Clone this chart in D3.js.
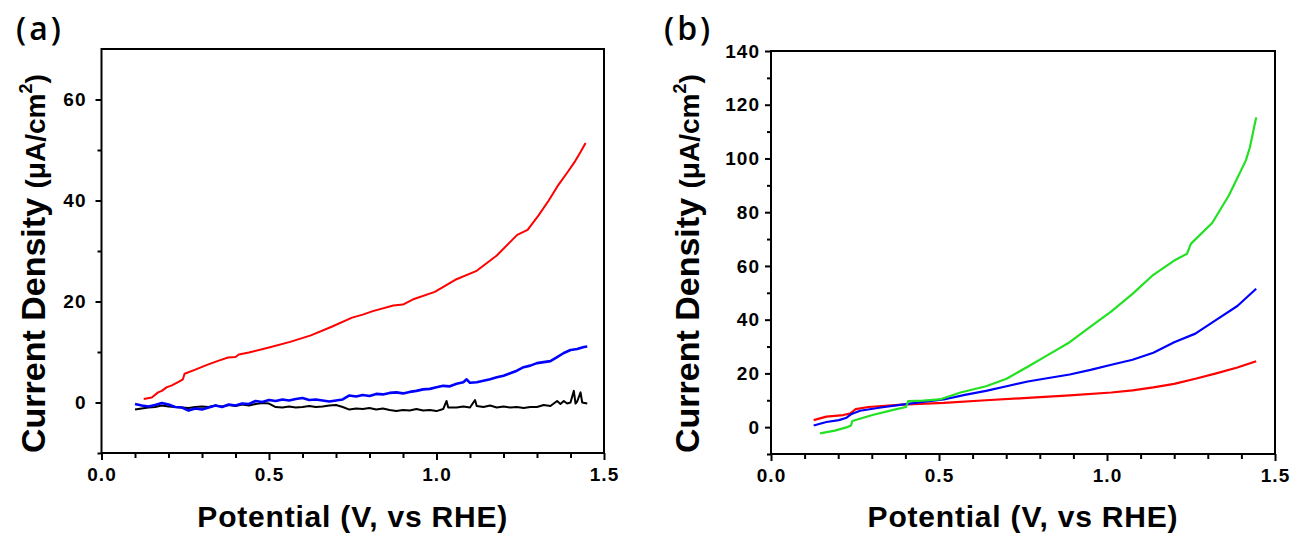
<!DOCTYPE html>
<html>
<head>
<meta charset="utf-8">
<script src="https://cdn.jsdelivr.net/npm/d3@7"></script>
<style>
  body { margin: 0; background: #fff; }
  svg { display: block; font-family: "Liberation Sans", Arial, sans-serif; }
</style>
</head>
<body>
<svg id="chart"></svg>
<script>
// x ticks (shared by both panels)
const xMajor = [0, 0.5, 1.0, 1.5];
const xMinor = [0.1, 0.2, 0.3, 0.4, 0.6, 0.7, 0.8, 0.9, 1.1, 1.2, 1.3, 1.4];

// y ticks
const aYMajor = [0, 20, 40, 60];
const aYMinor = [-10, 10, 30, 50];
const bYMajor = [0, 20, 40, 60, 80, 100, 120, 140];
const bYMinor = [-10, 10, 30, 50, 70, 90, 110, 130];

// panel (a) curves: [potential V, current density uA/cm2]
const aRed = [[0.126,0.7],[0.15,1.0],[0.169,2.0],[0.18,2.3],[0.194,3.0],[0.21,3.4],[0.23,4.1],[0.243,4.6],[0.248,5.7],
  [0.28,6.5],[0.317,7.5],[0.35,8.3],[0.378,8.9],[0.40,9.0],[0.41,9.5],[0.44,9.9],[0.50,10.9],[0.563,12.0],[0.625,13.3],
  [0.687,15.0],[0.748,16.8],[0.78,17.4],[0.81,18.1],[0.871,19.2],[0.90,19.4],[0.933,20.5],[0.995,21.9],[1.056,24.3],
  [1.118,26.0],[1.18,29.1],[1.241,33.2],[1.272,34.2],[1.303,36.9],[1.335,40.0],[1.364,43.1],[1.39,45.5],
  [1.414,47.8],[1.43,49.6],[1.445,51.4]];

const aBlue = [[0.10,-0.3],[0.12,-0.6],[0.14,-0.8],[0.16,-0.5],[0.18,-0.1],[0.20,-0.4],[0.22,-0.9],[0.24,-1.0],
  [0.26,-1.6],[0.28,-1.2],[0.30,-1.4],[0.32,-1.0],[0.34,-0.6],[0.36,-0.9],[0.38,-0.4],[0.40,-0.6],[0.42,-0.2],
  [0.44,-0.3],[0.46,0.3],[0.48,0.1],[0.50,0.5],[0.52,0.3],[0.54,0.6],[0.56,0.4],[0.58,0.7],[0.60,0.9],[0.62,0.5],
  [0.64,0.6],[0.66,0.4],[0.68,0.2],[0.70,0.4],[0.72,0.6],[0.74,1.4],[0.76,1.2],[0.78,1.5],[0.80,1.3],[0.82,1.7],
  [0.84,1.6],[0.86,1.9],[0.88,2.0],[0.90,1.8],[0.92,2.1],[0.94,2.3],[0.96,2.6],[0.98,2.7],[1.00,3.0],[1.02,3.3],
  [1.04,3.2],[1.06,3.7],[1.08,4.0],[1.09,4.6],[1.10,3.9],[1.12,4.0],[1.14,4.3],[1.16,4.6],[1.18,5.0],[1.20,5.3],
  [1.22,5.8],[1.24,6.3],[1.26,7.0],[1.28,7.3],[1.30,7.8],[1.32,8.0],[1.34,8.2],[1.36,9.0],[1.38,9.8],[1.40,10.4],
  [1.42,10.6],[1.44,11.0],[1.45,11.1]];

const aBlack = [[0.10,-1.4],[0.12,-1.2],[0.14,-1.0],[0.16,-0.9],[0.18,-0.6],[0.20,-0.8],[0.22,-0.9],[0.24,-1.0],
  [0.26,-1.1],[0.28,-0.9],[0.30,-0.8],[0.32,-0.9],[0.34,-0.6],[0.36,-0.8],[0.38,-0.5],[0.40,-0.7],[0.42,-0.4],
  [0.44,-0.6],[0.46,-0.3],[0.48,-0.1],[0.50,-0.2],[0.52,-0.9],[0.54,-1.0],[0.56,-0.8],[0.58,-1.0],[0.60,-0.9],
  [0.62,-0.7],[0.64,-0.9],[0.66,-0.8],[0.68,-0.6],[0.70,-0.5],[0.72,-0.9],[0.74,-1.4],[0.76,-1.2],[0.78,-1.3],
  [0.80,-1.1],[0.82,-1.4],[0.84,-1.2],[0.86,-1.5],[0.88,-1.7],[0.90,-1.5],[0.92,-1.6],[0.94,-1.3],[0.96,-1.6],
  [0.98,-1.5],[1.00,-1.7],[1.02,-1.3],[1.03,0.3],[1.035,-1.0],[1.06,-1.0],[1.08,-0.8],[1.10,-1.0],[1.115,0.5],
  [1.12,-0.7],[1.14,-0.9],[1.16,-0.6],[1.18,-1.0],[1.20,-0.8],[1.22,-1.0],[1.24,-0.9],[1.26,-1.1],[1.28,-0.9],
  [1.30,-0.9],[1.32,-0.5],[1.34,-0.7],[1.36,0.3],[1.37,-0.3],[1.38,0.3],[1.39,-0.2],[1.40,0.0],[1.41,2.3],
  [1.415,-0.2],[1.42,0.2],[1.43,2.0],[1.435,0.0],[1.45,-0.2]];

// panel (b) curves
const bRed = [[0.127,2.6],[0.165,3.9],[0.215,4.5],[0.235,5.0],[0.245,6.0],[0.252,6.7],[0.29,7.5],[0.39,8.4],
  [0.514,9.0],[0.64,10.0],[0.764,10.9],[0.889,11.8],[1.013,12.9],[1.076,13.7],[1.138,14.8],[1.2,16.1],
  [1.263,18.0],[1.325,20.0],[1.388,22.2],[1.444,24.5]];

const bBlue = [[0.127,0.6],[0.165,1.9],[0.202,2.6],[0.225,3.5],[0.24,4.9],[0.265,6.1],[0.327,7.3],[0.39,8.4],
  [0.452,9.4],[0.514,10.3],[0.577,12.0],[0.64,13.5],[0.701,15.2],[0.764,17.0],[0.826,18.3],[0.889,19.6],
  [0.951,21.3],[1.013,23.2],[1.076,25.1],[1.138,27.7],[1.2,31.6],[1.263,34.8],[1.325,39.9],[1.388,45.1],[1.444,51.5]];

const bGreen = [[0.146,-2.3],[0.19,-1.3],[0.227,0.0],[0.238,0.6],[0.242,2.3],[0.302,4.5],[0.364,6.4],[0.402,7.5],
  [0.408,9.7],[0.452,9.9],[0.502,10.3],[0.564,12.9],[0.64,15.2],[0.701,18.0],[0.764,22.5],[0.826,27.0],
  [0.889,31.6],[0.951,37.4],[1.013,43.1],[1.076,49.6],[1.138,56.7],[1.2,62.0],[1.238,64.5],[1.25,68.3],
  [1.313,76.0],[1.363,86.3],[1.413,99.2],[1.425,104.0],[1.444,115.3]];

var width = 1308;
var height = 545;

var svg = d3.select('#chart')
  .attr('width', width)
  .attr('height', height);

svg.append('rect').attr('width', width).attr('height', height).attr('fill', '#fff');

///////////////////////////////////////////////////////////////////////////////
// one panel: frame, ticks, titles and curves
function drawPanel(p) {
  var x = d3.scaleLinear().domain([0, 1.5]).range([p.left, p.right]);
  var y = d3.scaleLinear().domain(p.yDomain).range([p.bottom, p.top]);

  var g = svg.append('g');

  // minor ticks first, major on top
  g.append('g')
    .attr('transform', 'translate(0,' + p.bottom + ')')
    .call(d3.axisBottom(x).tickValues(xMinor).tickSize(5).tickSizeOuter(0).tickFormat(''));
  g.append('g')
    .attr('class', 'major')
    .attr('transform', 'translate(0,' + p.bottom + ')')
    .call(d3.axisBottom(x).tickValues(xMajor).tickSize(7).tickSizeOuter(0).tickPadding(8).tickFormat(d3.format('.1f')));

  g.append('g')
    .attr('transform', 'translate(' + p.left + ',0)')
    .call(d3.axisLeft(y).tickValues(p.yMinor).tickSize(4).tickSizeOuter(0).tickFormat(''));
  g.append('g')
    .attr('class', 'major')
    .attr('transform', 'translate(' + p.left + ',0)')
    .call(d3.axisLeft(y).tickValues(p.yMajor).tickSize(6).tickSizeOuter(0).tickPadding(p.yPad).tickFormat(d3.format('d')));

  g.selectAll('.domain').remove();
  g.selectAll('.tick line').attr('stroke', '#000').attr('stroke-width', 2);
  g.selectAll('.major')
    .attr('font-family', '"Liberation Sans", Arial, sans-serif')
    .attr('font-weight', 'bold')
    .attr('font-size', 19);
  g.selectAll('.tick text')
    .attr('fill', '#000')
    .style('font-weight', '700')
    .style('letter-spacing', '1px');

  // curves
  var line = d3.line().x(d => x(d[0])).y(d => y(d[1]));
  p.series.forEach(function(s) {
    g.append('path')
      .datum(s.data)
      .attr('fill', 'none')
      .attr('stroke', s.color)
      .attr('stroke-width', s.width)
      .attr('stroke-linejoin', 'round')
      .attr('d', line);
  });

  // box
  g.append('rect')
    .attr('x', p.left).attr('y', p.top)
    .attr('width', p.right - p.left).attr('height', p.bottom - p.top)
    .attr('fill', 'none').attr('stroke', '#000').attr('stroke-width', 2);

  // x axis title
  g.append('text')
    .attr('x', (p.left + p.right) / 2)
    .attr('y', 527)
    .attr('text-anchor', 'middle')
    .style('font-weight', 'bold')
    .style('font-size', '30px')
    .style('letter-spacing', '0.8px')
    .text('Potential (V, vs RHE)');

  // y axis title
  var yt = g.append('text')
    .attr('transform', 'translate(' + p.yTitleX + ',453) rotate(-90)')
    .attr('text-anchor', 'start')
    .style('font-weight', 'bold')
    .style('font-size', '34px');
  yt.append('tspan').text('Current Density ');
  yt.append('tspan').style('font-size', '28px').text('(\u03bcA/cm');
  yt.append('tspan').style('font-size', '18px').attr('dy', -13).text('2');
  yt.append('tspan').style('font-size', '28px').attr('dy', 13).text(')');

  // panel letter
  g.append('text')
    .attr('x', p.labelX)
    .attr('y', 40)
    .style('font-family', '"Open Sans", sans-serif')
    .style('font-weight', '600')
    .style('font-size', '32px')
    .style('letter-spacing', '3px')
    .text(p.label);
}

drawPanel({
  left: 101.5, right: 604, top: 49, bottom: 453,
  yDomain: [-10, 70], yMajor: aYMajor, yMinor: aYMinor, yPad: 9,
  yTitleX: 45, label: '(a)', labelX: 16,
  series: [
    { data: aBlack, color: '#000000', width: 2 },
    { data: aBlue, color: '#0000ff', width: 2.6 },
    { data: aRed, color: '#ff0000', width: 2 }
  ]
});

drawPanel({
  left: 771, right: 1275, top: 51, bottom: 454,
  yDomain: [-10, 140], yMajor: bYMajor, yMinor: bYMinor, yPad: 5,
  yTitleX: 699, label: '(b)', labelX: 664,
  series: [
    { data: bRed, color: '#ff0000', width: 2.2 },
    { data: bBlue, color: '#0000ff', width: 2.2 },
    { data: bGreen, color: '#22e022', width: 2.2 }
  ]
});
</script>
</body>
</html>
